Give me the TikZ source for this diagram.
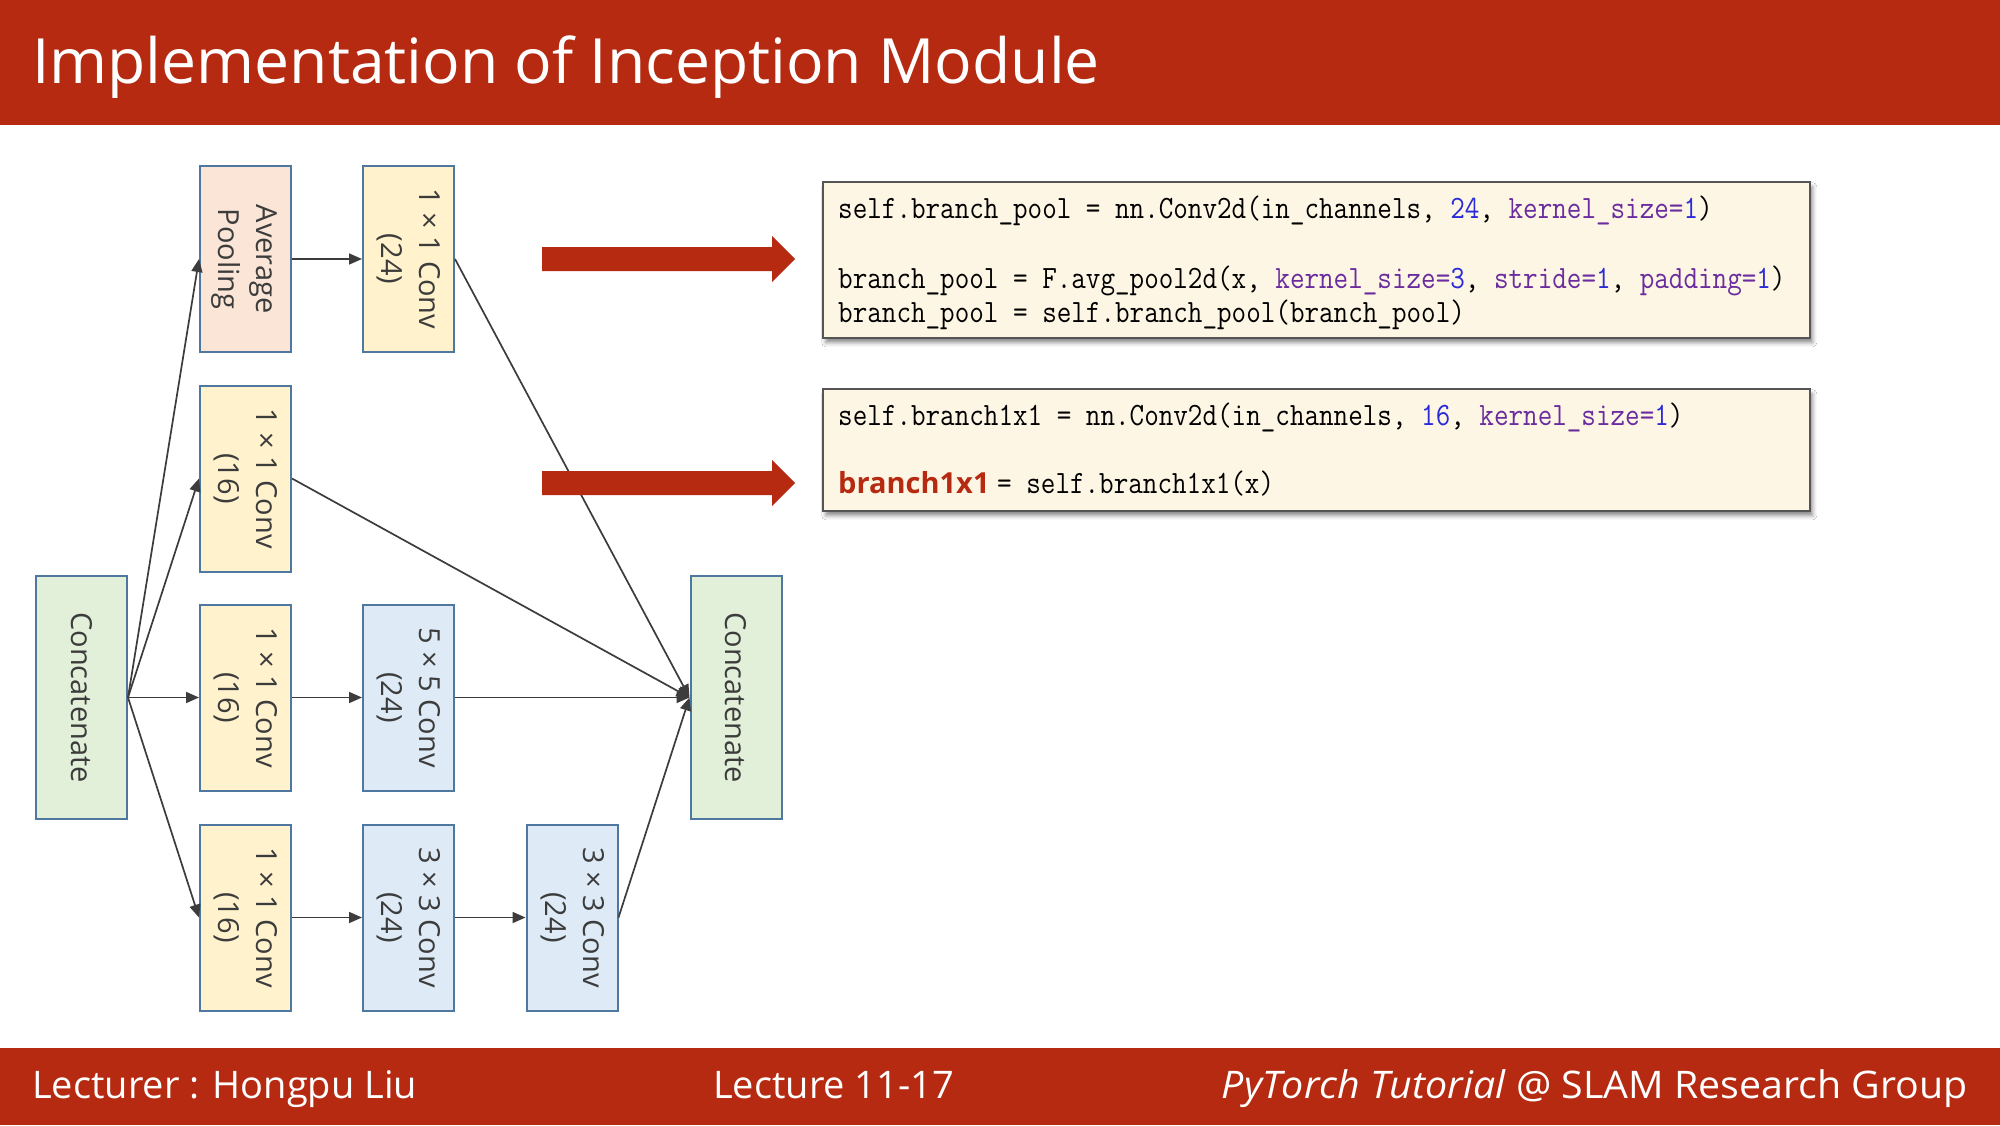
\documentclass[tikz,border=0pt]{standalone}
\usepackage{fontspec}
\setmainfont{Open Sans}
\usepackage{graphicx}
\usetikzlibrary{arrows.meta,shadows.blur}

\definecolor{barred}{HTML}{B52A10}
\definecolor{peach}{HTML}{FBE5D6}
\definecolor{gold}{HTML}{FFF2CC}
\definecolor{lblue}{HTML}{DEEBF7}
\definecolor{lgreen}{HTML}{E2F0D9}
\definecolor{blkline}{HTML}{4E78A0}
\definecolor{txtgray}{HTML}{3C3C3C}
\definecolor{cream}{HTML}{FEF6E4}
\definecolor{codeline}{HTML}{555555}
\definecolor{cblue}{HTML}{2A2AD8}
\definecolor{cpurp}{HTML}{6A2C9E}

% two-line label turned to read top to bottom
\newcommand{\vlab}[2]{\rotatebox{-90}{\begin{tabular}{@{}c@{}}#1\\#2\end{tabular}}}
\newcommand{\vone}[1]{\rotatebox{-90}{#1}}
% code line in a tall monospace
\newcommand{\codefont}{\ttfamily\fontsize{28.3}{34}\selectfont}
\newcommand{\cl}[1]{\scalebox{1}[1.15]{\codefont #1}}
\newcommand{\kw}[1]{\textcolor{cpurp}{#1}}
\newcommand{\nm}[1]{\textcolor{cblue}{#1}}

\begin{document}
\begin{tikzpicture}[x=1pt,y=1pt,
  blk/.style={draw=blkline, line width=2pt, inner sep=0pt,
    minimum width=91pt, minimum height=186pt, text=txtgray,
    font=\fontsize{29}{38}\selectfont},
  catbox/.style={blk, fill=lgreen, minimum height=243pt},
  poolbox/.style={blk, fill=peach},
  onebox/.style={blk, fill=gold},
  bigbox/.style={blk, fill=lblue},
  link/.style={draw=txtgray, line width=1.7pt, -{Triangle[length=13pt,width=11pt]}},
  codebox/.style={draw=codeline, line width=1.5pt, fill=cream, anchor=north west,
    minimum width=987pt, inner sep=0pt,
    blur shadow={shadow xshift=3pt, shadow yshift=-5pt, shadow blur radius=4pt, shadow opacity=45}},
  code/.style={anchor=base west, inner sep=0pt, text=black},
  foot/.style={anchor=base west, inner sep=0pt, text=white, font=\fontsize{38}{44}\selectfont},
]
\useasboundingbox (0,0) rectangle (2000,-1125);
\fill[white] (0,0) rectangle (2000,-1125);

% header and footer bands
\fill[barred] (0,0) rectangle (2000,-125);
\fill[barred] (0,-1048) rectangle (2000,-1125);
\node[anchor=base west, inner sep=0pt, text=white, font=\fontsize{62.4}{70}\selectfont]
  (title) at (32,-83) {Implementation of Inception Module};
\node[foot] (lect) at (32,-1098) {Lecturer : Hongpu Liu};
\node[foot] (num) at (713,-1098) {Lecture 11-17};
\node[foot, anchor=base east] (group) at (1968,-1098) {\scalebox{1.035}[1]{\textit{PyTorch Tutorial} @ SLAM Research Group}};

% inception module blocks
\node[catbox] (lc) at (81.5,-697.5) {\vone{Concatenate}};
\node[poolbox] (ap) at (245.5,-259) {\vlab{Average}{Pooling}};
\node[onebox] (c24) at (408.5,-259) {\vlab{1 × 1 Conv}{(24)}};
\node[onebox] (c16a) at (245.5,-478.5) {\vlab{1 × 1 Conv}{(16)}};
\node[onebox] (c16b) at (245.5,-697.5) {\vlab{1 × 1 Conv}{(16)}};
\node[bigbox] (c55) at (408.5,-697.5) {\vlab{5 × 5 Conv}{(24)}};
\node[onebox] (c16c) at (245.5,-917.5) {\vlab{1 × 1 Conv}{(16)}};
\node[bigbox] (c33a) at (408.5,-917.5) {\vlab{3 × 3 Conv}{(24)}};
\node[bigbox] (c33b) at (572,-917.5) {\vlab{3 × 3 Conv}{(24)}};
\node[catbox] (rc) at (736,-697.5) {\vone{Concatenate}};

% connections
\draw[link] (lc.east) -- (ap.west);
\draw[link] (lc.east) -- (c16a.west);
\draw[link] (lc.east) -- (c16b.west);
\draw[link] (lc.east) -- (c16c.west);
\draw[link] (ap.east) -- (c24.west);
\draw[link] (c16b.east) -- (c55.west);
\draw[link] (c16c.east) -- (c33a.west);
\draw[link] (c33a.east) -- (c33b.west);
\draw[link] (c24.east) -- (rc.west);
\draw[link] (c16a.east) -- (rc.west);
\draw[link] (c55.east) -- (rc.west);
\draw[link] (c33b.east) -- (rc.west);

% block arrows pointing at the code
\fill[barred] (542,-247) -- (772,-247) -- (772,-236) -- (795,-259) -- (772,-282) -- (772,-271) -- (542,-271) -- cycle;
\fill[barred] (542,-471) -- (772,-471) -- (772,-460) -- (795,-483) -- (772,-506) -- (772,-495) -- (542,-495) -- cycle;

% code panels
\node[codebox, minimum height=156pt] (cb1) at (822,-181) {};
\node[codebox, minimum height=122pt] (cb2) at (822,-388) {};

\node[code] (p1) at (838,-218) {\cl{self.branch\_pool = nn.Conv2d(in\_channels, \nm{24}, \kw{kernel\_size=}\nm{1})}};
\node[code] (p2) at (838,-288) {\cl{branch\_pool = F.avg\_pool2d(x, \kw{kernel\_size=}\nm{3}, \kw{stride=}\nm{1}, \kw{padding=}\nm{1})}};
\node[code] (p3) at (838,-322) {\cl{branch\_pool = self.branch\_pool(branch\_pool)}};

\node[code] (q1) at (838,-425) {\cl{self.branch1x1 = nn.Conv2d(in\_channels, \nm{16}, \kw{kernel\_size=}\nm{1})}};
\node[code, text=barred, font=\bfseries\fontsize{29}{34}\selectfont] (q2) at (838,-493) {branch1x1};
\node[code] (q3) at (997,-493) {\cl{= self.branch1x1(x)}};
\end{tikzpicture}
\end{document}
